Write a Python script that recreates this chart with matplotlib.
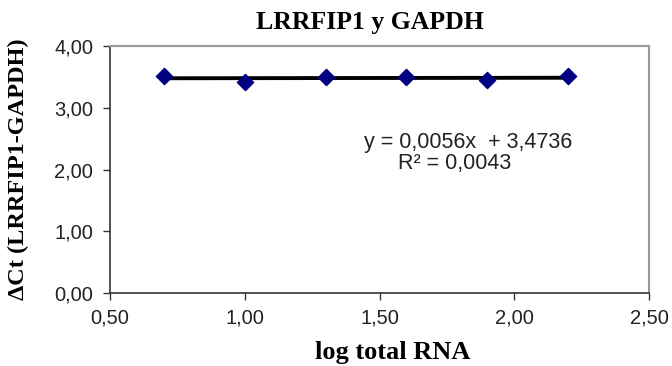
import matplotlib
matplotlib.use("Agg")
import matplotlib.pyplot as plt
import numpy as np

# Data: log of total RNA vs. delta Ct (LRRFIP1 - GAPDH)
log_rna = [0.70, 1.00, 1.30, 1.60, 1.90, 2.20]
delta_ct = [3.52, 3.41, 3.49, 3.49, 3.45, 3.51]

# Linear trend line coefficients
slope = 0.0056
intercept = 3.4736
r_squared = 0.0043

x_ticks = [0.5, 1.0, 1.5, 2.0, 2.5]
y_ticks = [0.0, 1.0, 2.0, 3.0, 4.0]

def comma(v, nd):
    return f"{v:.{nd}f}".replace(".", ",")

W, H = 672, 366
fig = plt.figure(figsize=(W / 100, H / 100), dpi=100)
L, R, T, B = 110, 649, 46, 293
ax = fig.add_axes([L / W, 1 - B / H, (R - L) / W, (B - T) / H])

# Trend line
xt = np.array([min(log_rna), max(log_rna)])
ax.plot(xt, slope * xt + intercept, color="black", lw=2.8, zorder=2,
        solid_capstyle="butt")

# Data points
ax.scatter(log_rna, delta_ct, marker="D", s=68, color="#000080",
           edgecolors="#000080", zorder=3)

ax.set_xlim(0.5, 2.5)
ax.set_ylim(0.0, 4.0)
ax.set_xticks(x_ticks)
ax.set_yticks(y_ticks)
ax.set_xticklabels([comma(v, 2) for v in x_ticks])
ax.set_yticklabels([comma(v, 2) for v in y_ticks])

for lbl in ax.get_xticklabels() + ax.get_yticklabels():
    lbl.set_fontfamily("Liberation Sans")
    lbl.set_fontsize(14.5)
ax.tick_params(axis="both", direction="out", length=5, width=1, color="#333333",
               labelcolor="#222222")
ax.tick_params(axis="x", pad=6)
ax.tick_params(axis="y", pad=7)

for side in ("left", "bottom"):
    ax.spines[side].set_color("#333333")
    ax.spines[side].set_linewidth(1.2)
for side in ("top", "right"):
    ax.spines[side].set_color("#999999")
    ax.spines[side].set_linewidth(1.5)

serif = dict(family="Liberation Serif", weight="bold")
ax.text((370 - L) / (R - L), (B - 22) / (B - T), "LRRFIP1 y GAPDH",
        transform=ax.transAxes, ha="center", va="center", fontsize=18.5, **serif)
ax.set_xlabel("log total RNA", fontsize=19, va="center", **serif)
ax.xaxis.set_label_coords((393 - L) / (R - L), (B - 353) / (B - T))
ax.set_ylabel("ΔCt (LRRFIP1-GAPDH)", fontsize=17.5, va="center", **serif)
ax.yaxis.set_label_coords((18 - L) / (R - L), (B - 169) / (B - T))

ax.text(1.83, 2.44, f"y = {comma(slope, 4)}x  + {comma(intercept, 4)}",
        ha="center", va="center", fontsize=15.5, family="Liberation Sans",
        color="#222222")
ax.text(1.78, 2.09, f"R² = {comma(r_squared, 4)}",
        ha="center", va="center", fontsize=15.5, family="Liberation Sans",
        color="#222222")

fig.savefig("out.png", dpi=100)
